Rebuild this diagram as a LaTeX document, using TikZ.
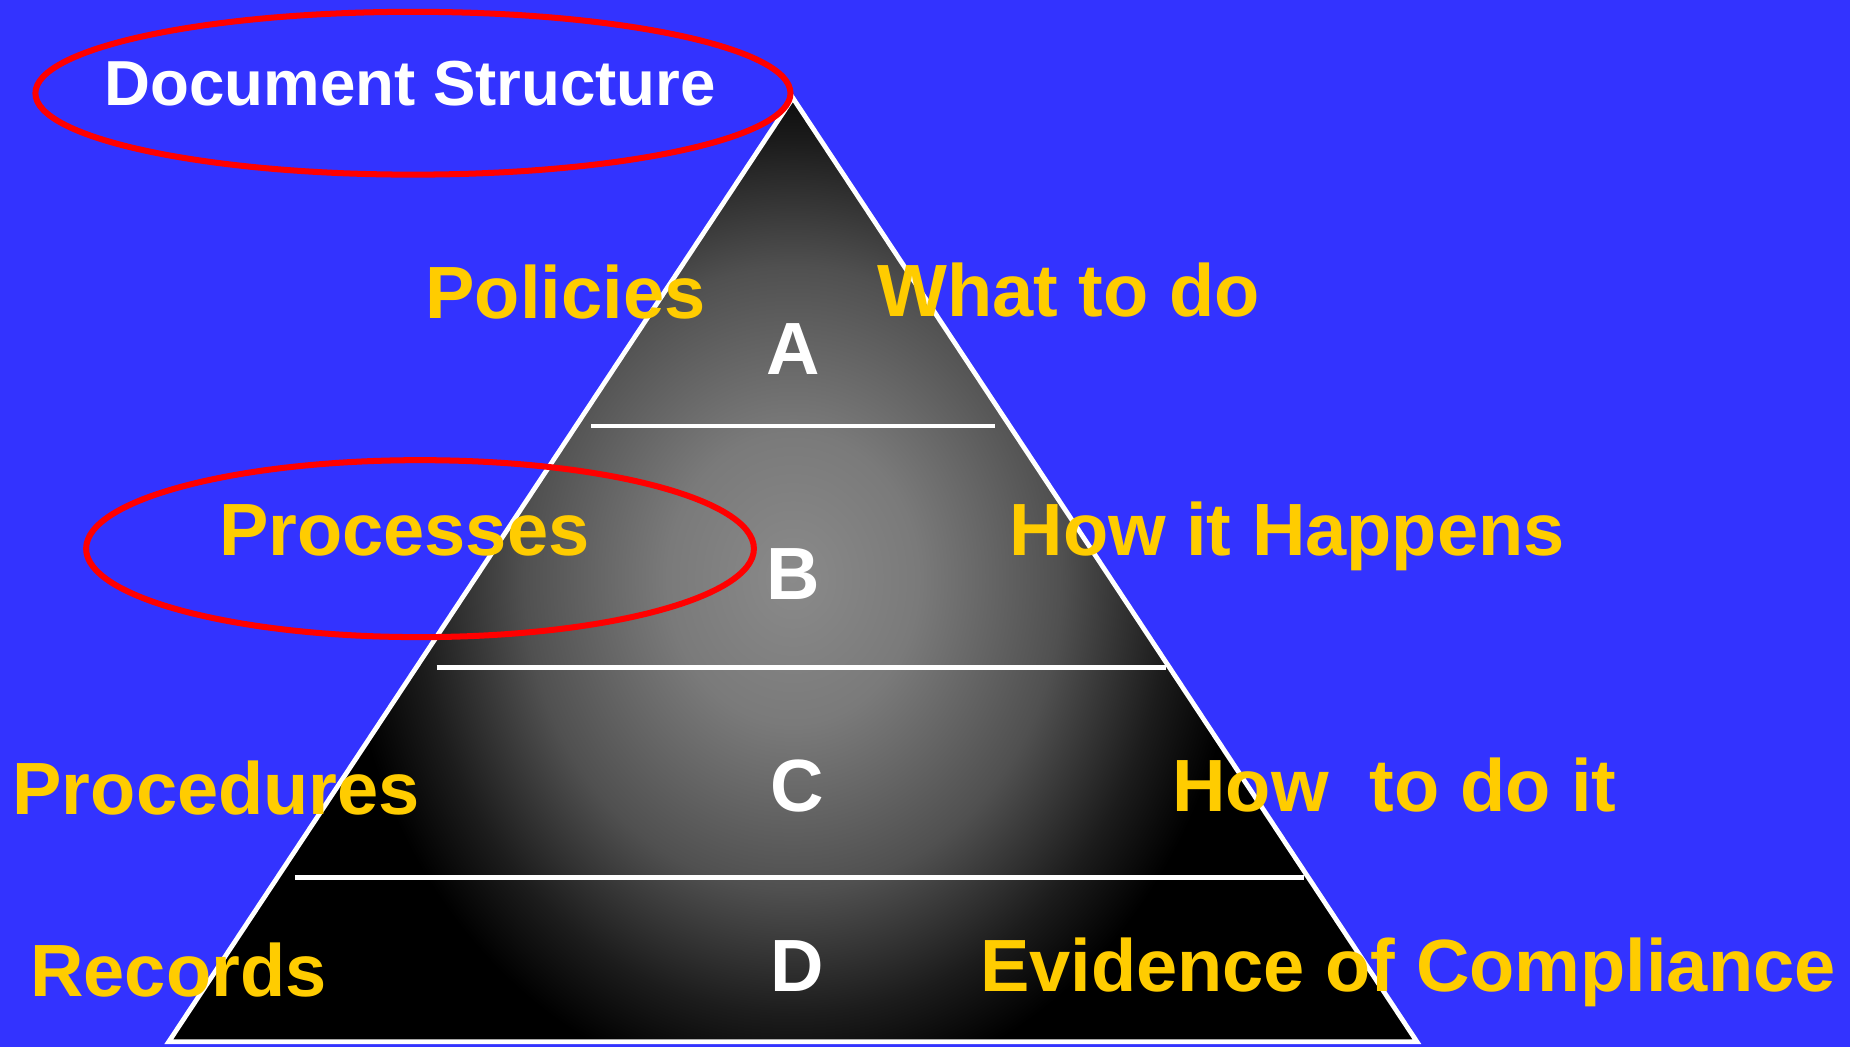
\documentclass[tikz,border=0pt]{standalone}
\usepackage{fontspec}
\setmainfont{Liberation Sans}
\definecolor{bg}{RGB}{51,51,255}
\definecolor{gold}{RGB}{255,204,0}
\definecolor{ring}{RGB}{255,0,0}
\definecolor{glowA}{RGB}{138,138,138}
\definecolor{glowB}{RGB}{122,122,122}
\definecolor{glowC}{RGB}{80,80,80}
\definecolor{glowD}{RGB}{28,28,28}
% soft grey glow that reaches black well before the rim of the shaded path
\pgfdeclareradialshading{pyrglow}{\pgfpoint{0bp}{0bp}}{%
  color(0bp)=(glowA); color(7bp)=(glowB); color(15bp)=(glowC);
  color(21bp)=(glowD); color(25bp)=(black); color(50bp)=(black)}
\tikzset{
  label/.style={font=\bfseries\fontsize{17.84pt}{20pt}\selectfont, text=gold, inner sep=0pt, anchor=base west},
  letter/.style={font=\bfseries\fontsize{17.84pt}{20pt}\selectfont, text=white, inner sep=0pt, anchor=base},
  title/.style={font=\bfseries\fontsize{15.33pt}{17pt}\selectfont, text=white, inner sep=0pt, anchor=base west},
  edge/.style={draw=white, line width=1.15pt},
  mark ring/.style={draw=ring, line width=1.45pt},
}
\begin{document}
\begin{tikzpicture}[x=0.01cm, y=-0.01cm]
  \useasboundingbox (0,0) rectangle (1568,887);
  \fill[bg] (0,0) rectangle (1568,887);

  % pyramid corners and level lines
  \coordinate (apex) at (672,83);
  \coordinate (bl) at (143,883);
  \coordinate (br) at (1201,883);
  \coordinate (l1a) at (501,361);  \coordinate (l1b) at (843,361);
  \coordinate (l2a) at (370,566);  \coordinate (l2b) at (988,566);
  \coordinate (l3a) at (250,744);  \coordinate (l3b) at (1105,744);

  % shaded body
  \begin{scope}
    \clip (apex) -- (bl) -- (br) -- cycle;
    \fill[black] (143,80) rectangle (1201,887);
    \shade[shading=pyrglow] (672,490) ellipse (380 and 440);
  \end{scope}
  \draw[edge, line join=miter] (apex) -- (bl) -- (br) -- cycle;
  \draw[edge] (l1a) -- (l1b);
  \draw[edge] (l2a) -- (l2b);
  \draw[edge] (l3a) -- (l3b);

  % level letters
  \node[letter] (la) at (672,317) {A};
  \node[letter] (lb) at (672,508) {B};
  \node[letter] (lc) at (676,688) {C};
  \node[letter] (ld) at (676,840) {D};

  % left labels
  \node[label] (policies) at (360,270) {Policies};
  \node[label] (processes) at (185,471) {Processes};
  \node[label] (procedures) at (10,690) {Procedures};
  \node[label] (records) at (25,845) {Records};

  % right labels
  \node[label] (what) at (743,268) {What to do};
  \node[label] (how) at (855,471) {How it Happens};
  \node[label] (howto) at (993,688) {How\ \ to do it};
  \node[label] (evidence) at (830,840) {Evidence of Compliance};

  % title and highlight rings
  \node[title] (titletext) at (88,89) {Document Structure};
  \draw[mark ring] (350,79) ellipse (320 and 69);
  \draw[mark ring] (356,465) ellipse (283 and 75);
\end{tikzpicture}
\end{document}
